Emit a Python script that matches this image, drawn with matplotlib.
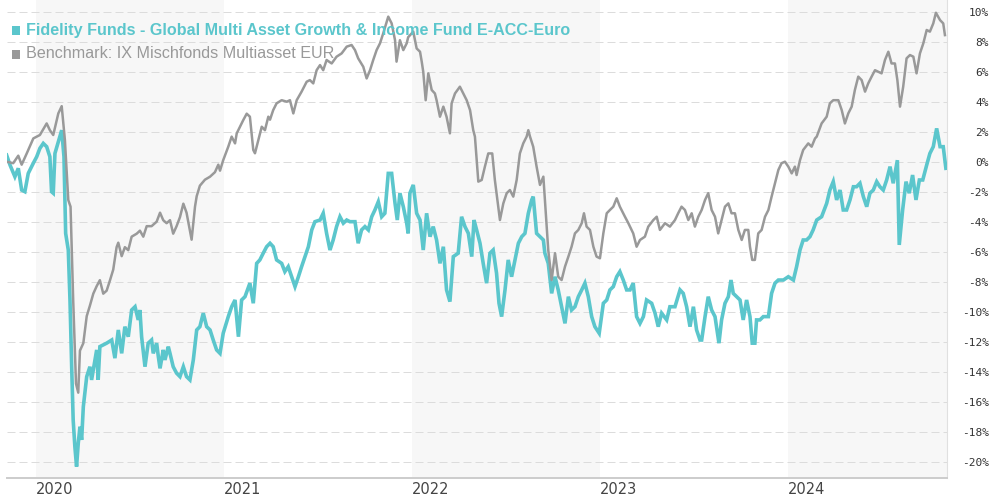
import matplotlib
matplotlib.use("Agg")
import matplotlib.pyplot as plt
from matplotlib.patches import Rectangle

# ---- data (decimal years, % performance) ----
FUND_NAME = "Fidelity Funds - Global Multi Asset Growth & Income Fund E-ACC-Euro"
BENCH_NAME = "Benchmark: IX Mischfonds Multiasset EUR"

YEARS = [2020, 2021, 2022, 2023, 2024]
Y_TICKS = list(range(-20, 11, 2))

fund_t = [
    2019.844, 2019.862, 2019.888, 2019.906, 2019.924, 2019.941, 2019.959, 2019.986, 2020.004, 2020.021,
    2020.039, 2020.057, 2020.074, 2020.083, 2020.092, 2020.101, 2020.119, 2020.137, 2020.149, 2020.158,
    2020.172, 2020.181, 2020.190, 2020.198, 2020.207, 2020.216, 2020.225, 2020.234, 2020.243, 2020.252,
    2020.270, 2020.287, 2020.296, 2020.314, 2020.323, 2020.331, 2020.340, 2020.376, 2020.403, 2020.420,
    2020.438, 2020.456, 2020.473, 2020.491, 2020.509, 2020.527, 2020.544, 2020.553, 2020.562, 2020.580,
    2020.597, 2020.615, 2020.624, 2020.642, 2020.651, 2020.660, 2020.677, 2020.686, 2020.704, 2020.713,
    2020.730, 2020.748, 2020.766, 2020.784, 2020.801, 2020.819, 2020.837, 2020.855, 2020.872, 2020.890,
    2020.908, 2020.926, 2020.943, 2020.961, 2020.979, 2020.996, 2021.023, 2021.041, 2021.059, 2021.077,
    2021.094, 2021.112, 2021.138, 2021.156, 2021.174, 2021.191, 2021.209, 2021.227, 2021.245, 2021.262,
    2021.280, 2021.307, 2021.324, 2021.342, 2021.360, 2021.378, 2021.396, 2021.413, 2021.431, 2021.449,
    2021.467, 2021.484, 2021.511, 2021.528, 2021.546, 2021.564, 2021.581, 2021.599, 2021.617, 2021.635,
    2021.653, 2021.670, 2021.697, 2021.714, 2021.732, 2021.750, 2021.768, 2021.786, 2021.803, 2021.821,
    2021.839, 2021.856, 2021.874, 2021.892, 2021.910, 2021.922, 2021.936, 2021.954, 2021.972, 2021.980,
    2021.989, 2022.007, 2022.025, 2022.043, 2022.060, 2022.078, 2022.096, 2022.113, 2022.131, 2022.149,
    2022.167, 2022.184, 2022.202, 2022.220, 2022.246, 2022.264, 2022.282, 2022.300, 2022.318, 2022.330,
    2022.344, 2022.362, 2022.379, 2022.397, 2022.415, 2022.432, 2022.450, 2022.463, 2022.477, 2022.495,
    2022.512, 2022.530, 2022.548, 2022.566, 2022.584, 2022.601, 2022.619, 2022.637, 2022.645, 2022.663,
    2022.681, 2022.699, 2022.707, 2022.725, 2022.743, 2022.761, 2022.778, 2022.796, 2022.814, 2022.832,
    2022.849, 2022.867, 2022.885, 2022.903, 2022.920, 2022.938, 2022.956, 2022.973, 2022.996, 2023.018,
    2023.036, 2023.053, 2023.071, 2023.089, 2023.106, 2023.124, 2023.142, 2023.160, 2023.177, 2023.195,
    2023.213, 2023.231, 2023.248, 2023.275, 2023.293, 2023.310, 2023.328, 2023.355, 2023.372, 2023.399,
    2023.426, 2023.443, 2023.461, 2023.479, 2023.497, 2023.514, 2023.532, 2023.541, 2023.559, 2023.576,
    2023.594, 2023.612, 2023.633, 2023.647, 2023.665, 2023.683, 2023.697, 2023.709, 2023.727, 2023.745,
    2023.762, 2023.780, 2023.798, 2023.810, 2023.824, 2023.833, 2023.851, 2023.869, 2023.896, 2023.913,
    2023.931, 2023.949, 2023.976, 2024.002, 2024.029, 2024.046, 2024.064, 2024.081, 2024.099, 2024.117,
    2024.134, 2024.153, 2024.179, 2024.206, 2024.223, 2024.241, 2024.259, 2024.277, 2024.294, 2024.312,
    2024.330, 2024.348, 2024.365, 2024.383, 2024.401, 2024.419, 2024.436, 2024.454, 2024.472, 2024.489,
    2024.507, 2024.525, 2024.543, 2024.560, 2024.582, 2024.592, 2024.610, 2024.628, 2024.645, 2024.663,
    2024.681, 2024.699, 2024.717, 2024.738, 2024.755, 2024.773, 2024.791, 2024.809, 2024.826, 2024.840,
]
fund_v = [
    0.44, -0.22, -1.0, -0.44, -1.89, -2.0, -0.78, -0.1, 0.33, 0.89,
    1.22, 1.0, 0.33, -2.0, -2.1, 0.55, 1.33, 2.1, 0.33, -4.78,
    -5.89, -9.22, -13.67, -17.22, -19.0, -20.33, -18.78, -17.67, -18.55, -16.33,
    -14.33, -13.67, -14.55, -13.22, -12.55, -14.55, -12.33, -12.1, -11.89, -13.1,
    -11.22, -12.78, -11.0, -11.67, -9.89, -9.67, -10.55, -9.89, -11.67, -13.67,
    -12.1, -11.89, -12.78, -12.1, -13.0, -13.78, -12.55, -13.22, -12.33, -12.78,
    -13.67, -14.1, -14.33, -13.67, -14.33, -14.55, -13.22, -11.22, -11.0, -10.1,
    -11.0, -11.22, -11.89, -12.55, -12.78, -11.44, -10.33, -9.67, -9.22, -11.67,
    -9.22, -9.0, -8.1, -9.44, -6.78, -6.55, -6.1, -5.67, -5.44, -5.67,
    -6.55, -6.78, -7.33, -7.0, -7.67, -8.33, -7.67, -7.0, -6.33, -5.67,
    -4.55, -4.0, -3.89, -3.44, -4.78, -5.89, -5.22, -4.33, -3.67, -4.1,
    -3.89, -4.0, -4.0, -5.44, -4.55, -4.33, -4.55, -3.67, -3.22, -2.67,
    -3.67, -3.44, -0.78, -0.78, -2.78, -3.89, -2.1, -3.0, -4.1, -4.78,
    -2.1, -1.55, -3.44, -3.89, -5.89, -3.44, -5.0, -4.33, -5.22, -6.78,
    -5.67, -8.55, -9.33, -6.33, -6.1, -3.67, -4.33, -4.78, -6.33, -3.89,
    -4.55, -5.44, -6.78, -8.1, -6.1, -5.89, -7.44, -9.44, -10.33, -8.55,
    -6.55, -7.67, -6.55, -5.44, -5.0, -4.78, -3.44, -2.55, -2.33, -4.78,
    -5.0, -5.22, -6.1, -6.78, -8.78, -7.67, -8.55, -9.67, -10.78, -9.0,
    -9.89, -9.67, -9.0, -8.55, -8.1, -9.0, -10.33, -11.0, -11.44, -9.44,
    -9.22, -8.55, -8.33, -7.67, -7.33, -7.89, -8.55, -8.55, -8.1, -10.33,
    -10.78, -10.33, -9.22, -9.44, -10.1, -11.0, -10.1, -10.55, -9.67, -9.67,
    -8.55, -8.78, -9.67, -11.0, -9.67, -11.22, -11.89, -11.89, -10.33, -9.0,
    -9.89, -10.33, -12.1, -10.55, -9.44, -9.0, -7.89, -8.78, -9.0, -9.22,
    -10.55, -9.22, -10.33, -12.1, -12.1, -10.55, -10.55, -10.33, -10.33, -8.78,
    -8.1, -7.89, -7.89, -7.67, -7.89, -7.0, -5.89, -5.22, -5.22, -5.0,
    -4.55, -3.89, -3.67, -2.78, -1.89, -1.33, -2.55, -1.89, -3.22, -3.22,
    -2.55, -1.67, -1.67, -1.44, -2.33, -3.0, -2.1, -1.89, -1.33, -1.67,
    -1.89, -1.22, -0.33, -1.44, 0.1, -5.55, -3.22, -1.33, -2.1, -0.89,
    -2.55, -1.22, -1.22, -0.22, 0.55, 1.0, 2.22, 1.0, 1.0, -0.44,
]

bench_t = [
    2019.844, 2019.879, 2019.906, 2019.924, 2019.951, 2019.986, 2020.021, 2020.057, 2020.074, 2020.092,
    2020.119, 2020.137, 2020.154, 2020.172, 2020.184, 2020.198, 2020.213, 2020.225, 2020.234, 2020.252,
    2020.270, 2020.287, 2020.305, 2020.323, 2020.340, 2020.358, 2020.376, 2020.394, 2020.411, 2020.429,
    2020.438, 2020.456, 2020.473, 2020.491, 2020.509, 2020.536, 2020.553, 2020.571, 2020.589, 2020.615,
    2020.642, 2020.660, 2020.677, 2020.695, 2020.713, 2020.730, 2020.748, 2020.766, 2020.784, 2020.801,
    2020.819, 2020.828, 2020.846, 2020.855, 2020.872, 2020.899, 2020.926, 2020.952, 2020.970, 2020.979,
    2020.996, 2021.023, 2021.041, 2021.059, 2021.068, 2021.085, 2021.103, 2021.121, 2021.138, 2021.156,
    2021.165, 2021.183, 2021.201, 2021.218, 2021.236, 2021.245, 2021.262, 2021.280, 2021.307, 2021.334,
    2021.351, 2021.369, 2021.387, 2021.413, 2021.440, 2021.457, 2021.475, 2021.493, 2021.511, 2021.528,
    2021.546, 2021.573, 2021.599, 2021.626, 2021.653, 2021.679, 2021.697, 2021.714, 2021.741, 2021.759,
    2021.777, 2021.794, 2021.812, 2021.830, 2021.847, 2021.874, 2021.892, 2021.910, 2021.918, 2021.936,
    2021.954, 2021.972, 2021.980, 2022.007, 2022.025, 2022.043, 2022.052, 2022.060, 2022.073, 2022.087,
    2022.105, 2022.122, 2022.131, 2022.149, 2022.167, 2022.184, 2022.202, 2022.211, 2022.229, 2022.255,
    2022.273, 2022.291, 2022.309, 2022.326, 2022.335, 2022.353, 2022.371, 2022.388, 2022.406, 2022.427,
    2022.441, 2022.459, 2022.468, 2022.486, 2022.504, 2022.521, 2022.539, 2022.557, 2022.574, 2022.592,
    2022.610, 2022.619, 2022.628, 2022.645, 2022.663, 2022.681, 2022.699, 2022.713, 2022.725, 2022.743,
    2022.761, 2022.778, 2022.796, 2022.814, 2022.832, 2022.849, 2022.867, 2022.885, 2022.903, 2022.915,
    2022.929, 2022.947, 2022.965, 2022.982, 2023.000, 2023.018, 2023.036, 2023.053, 2023.071, 2023.089,
    2023.106, 2023.133, 2023.151, 2023.177, 2023.195, 2023.213, 2023.239, 2023.257, 2023.284, 2023.302,
    2023.319, 2023.346, 2023.372, 2023.399, 2023.416, 2023.434, 2023.452, 2023.470, 2023.488, 2023.505,
    2023.523, 2023.541, 2023.559, 2023.576, 2023.594, 2023.612, 2023.629, 2023.647, 2023.665, 2023.683,
    2023.700, 2023.718, 2023.736, 2023.754, 2023.771, 2023.789, 2023.798, 2023.810, 2023.824, 2023.842,
    2023.860, 2023.878, 2023.896, 2023.913, 2023.931, 2023.949, 2023.966, 2023.984, 2024.002, 2024.020,
    2024.037, 2024.046, 2024.064, 2024.081, 2024.108, 2024.126, 2024.144, 2024.153, 2024.179, 2024.206,
    2024.223, 2024.241, 2024.268, 2024.286, 2024.303, 2024.321, 2024.339, 2024.356, 2024.374, 2024.392,
    2024.410, 2024.427, 2024.445, 2024.463, 2024.480, 2024.498, 2024.516, 2024.534, 2024.551, 2024.569,
    2024.582, 2024.596, 2024.613, 2024.631, 2024.649, 2024.667, 2024.684, 2024.702, 2024.720, 2024.738,
    2024.755, 2024.773, 2024.787, 2024.809, 2024.826, 2024.835,
]
bench_v = [
    0.0, -0.1, 0.4, -0.2, 0.55, 1.55, 1.78, 2.55, 2.1, 1.78,
    3.22, 3.7, 1.44, -2.56, -3.0, -9.2, -14.8, -15.4, -12.6, -12.1,
    -10.3, -9.6, -8.8, -8.3, -7.9, -8.8, -8.6, -7.9, -7.2, -5.7,
    -5.4, -6.3, -5.7, -5.9, -5.0, -4.8, -4.6, -5.0, -4.3, -4.3,
    -4.0, -3.4, -3.9, -4.1, -3.9, -4.8, -4.3, -3.7, -2.8, -3.4,
    -4.6, -5.2, -3.0, -2.3, -1.6, -1.2, -1.0, -0.7, -0.2, -0.6,
    0.1, 1.0, 1.67, 1.22, 1.89, 2.33, 2.78, 3.2, 3.0, 0.78,
    0.56, 1.44, 2.33, 2.1, 3.0, 2.8, 3.44, 3.89, 4.1, 4.0,
    4.1, 3.22, 4.1, 4.67, 5.33, 5.44, 5.22, 6.1, 6.44, 6.1,
    6.78, 6.55, 7.0, 7.22, 7.67, 7.78, 7.44, 6.89, 6.33, 5.55,
    6.1, 6.78, 7.44, 7.89, 8.55, 9.67, 9.22, 8.1, 6.67, 8.1,
    7.44, 7.89, 8.3, 8.67, 7.55, 7.33, 6.67, 6.0, 4.1, 5.89,
    4.78, 4.55, 4.1, 3.0, 3.67, 3.0, 1.89, 3.89, 4.55, 5.0,
    4.55, 4.1, 3.44, 2.1, 1.67, -1.33, -1.22, -0.33, 0.55, 0.55,
    -1.22, -3.0, -3.89, -2.78, -2.1, -1.89, -2.33, -1.22, 0.55, 1.22,
    1.67, 2.1, 1.67, 1.0, -0.33, -1.55, -1.0, -3.67, -5.89, -7.89,
    -6.1, -7.67, -7.89, -7.0, -6.33, -5.67, -4.78, -4.55, -4.1, -3.44,
    -4.33, -4.55, -5.67, -6.33, -6.44, -4.78, -3.44, -3.22, -3.0, -2.44,
    -3.0, -3.67, -4.1, -4.78, -5.67, -5.22, -5.0, -4.33, -3.89, -3.67,
    -4.55, -4.1, -4.33, -3.89, -3.44, -3.0, -3.22, -3.89, -3.44, -4.33,
    -3.67, -3.22, -2.55, -2.1, -3.22, -3.67, -4.78, -3.89, -3.0, -2.78,
    -3.44, -3.44, -4.55, -5.22, -4.55, -4.55, -5.67, -6.55, -6.55, -4.78,
    -4.55, -3.67, -3.22, -2.33, -1.44, -0.55, -0.1, 0.0, -0.33, -0.78,
    -0.33, -0.89, 0.1, 0.78, 1.22, 1.0, 1.55, 1.67, 2.55, 3.0,
    3.89, 4.1, 4.1, 3.44, 2.55, 3.22, 3.67, 4.78, 5.67, 5.44,
    4.67, 5.22, 5.67, 6.1, 6.0, 5.89, 6.78, 7.33, 6.55, 6.55,
    5.44, 3.67, 5.0, 6.89, 7.11, 7.0, 5.89, 7.22, 7.89, 8.78,
    8.67, 9.22, 9.93, 9.44, 9.22, 8.44,
]

TEAL = "#5bc6cc"
GREY = "#999999"
X_MIN, X_MAX = 2019.846, 2024.846
Y_MIN, Y_MAX = -21.09, 10.78

W, H = 990, 500
fig = plt.figure(figsize=(W / 100, H / 100), dpi=100)
ax = fig.add_axes([7 / W, 22 / H, 940 / W, 478 / H])
ax.set_xlim(X_MIN, X_MAX)
ax.set_ylim(Y_MIN, Y_MAX)

# alternating year bands
for y0 in YEARS[::2]:
    ax.axvspan(y0, min(y0 + 1, X_MAX), color="#f7f7f7", lw=0, zorder=0)

ax.set_yticks(Y_TICKS)
ax.yaxis.grid(True, color="#dcdcdc", linestyle=(0, (8, 4)), linewidth=0.72, zorder=1)
ax.set_axisbelow(True)

ax.plot(fund_t, fund_v, color=TEAL, lw=2.6, solid_joinstyle="miter", zorder=3)
ax.plot(bench_t, bench_v, color=GREY, lw=1.8, zorder=4)

for s in ["top", "left"]:
    ax.spines[s].set_visible(False)
ax.spines["bottom"].set_color("#cccccc")
ax.spines["bottom"].set_linewidth(1.4)
ax.spines["right"].set_color("#e0e0e0")
ax.spines["right"].set_linewidth(0.8)

ax.yaxis.tick_right()
ax.set_yticklabels([f"{v}%" for v in Y_TICKS])
ax.tick_params(axis="y", length=0, pad=30.0, labelsize=8, labelcolor="#333333")
for lab in ax.get_yticklabels():
    lab.set_horizontalalignment("right")
    lab.set_family("DejaVu Sans Mono")

ax.set_xticks(YEARS)
ax.set_xticklabels([str(y) for y in YEARS])
ax.tick_params(axis="x", length=0, pad=3, labelsize=10.5, labelcolor="#444444")
for lab in ax.get_xticklabels():
    lab.set_horizontalalignment("left")
    lab.set_family(["Liberation Sans Narrow", "DejaVu Sans"])

# legend drawn in figure pixels
for i, (name, col, bold) in enumerate([(FUND_NAME, TEAL, True), (BENCH_NAME, GREY, False)]):
    base = 34.5 + i * 24.0
    fig.patches.append(Rectangle((11.5 / W, 1 - (base) / H), 8.5 / W, 8.8 / H,
                                 transform=fig.transFigure, color=col, lw=0))
    fig.text(26 / W, 1 - base / H, name, color=col, fontsize=11.6,
             fontweight="bold" if bold else "normal",
             family=["Liberation Sans", "DejaVu Sans"], va="baseline", ha="left")

fig.savefig("out.png", dpi=100)
